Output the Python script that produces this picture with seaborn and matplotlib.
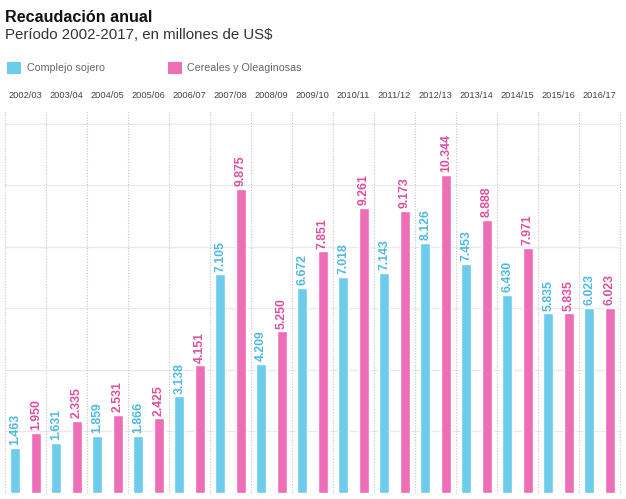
import matplotlib
matplotlib.use("Agg")
import matplotlib.pyplot as plt
from matplotlib.patches import Rectangle
import seaborn as sns
import pandas as pd

campanas = ["2002/03", "2003/04", "2004/05", "2005/06", "2006/07", "2007/08", "2008/09",
            "2009/10", "2010/11", "2011/12", "2012/13", "2013/14", "2014/15", "2015/16", "2016/17"]
complejo_sojero = [1463, 1631, 1859, 1866, 3138, 7105, 4209, 6672, 7018, 7143, 8126, 7453, 6430, 5835, 6023]
cereales_oleaginosas = [1950, 2335, 2531, 2425, 4151, 9875, 5250, 7851, 9261, 9173, 10344, 8888, 7971, 5835, 6023]
series = ["Complejo sojero", "Cereales y Oleaginosas"]

bar_colors = ["#6DCBEB", "#EE6DB7"]
label_colors = ["#4FB9DE", "#DC4F9F"]

df = pd.DataFrame({
    "campana": campanas * 2,
    "valor": complejo_sojero + cereales_oleaginosas,
    "serie": [series[0]] * len(campanas) + [series[1]] * len(campanas),
})

sns.set_theme(style="white")
plt.rcParams["font.family"] = ["Liberation Sans", "DejaVu Sans"]

fig = plt.figure(figsize=(6.26, 4.99), dpi=100)
W, H = 626, 499
ax = fig.add_axes([5 / W, 1 - 493 / H, 615 / W, (493 - 110) / H])

sns.barplot(data=df, x="campana", y="valor", hue="serie", order=campanas, hue_order=series,
            palette=bar_colors, width=1.0, gap=0.51, saturation=1, ax=ax, legend=False,
            errorbar=None, zorder=3)

for cont, vals, col in zip(ax.containers, [complejo_sojero, cereales_oleaginosas], label_colors):
    labels = [f"{v:,}".replace(",", ".") for v in vals]
    ax.bar_label(cont, labels=labels, rotation=90, padding=2, color=col,
                 fontsize=8.8, fontweight="bold", zorder=4)

n = len(campanas)
ax.set_xlim(-0.5, n - 0.5)
ax.set_ylim(0, 12450)
ax.set_yticks(range(2000, 12001, 2000))
ax.yaxis.grid(True, color="#e9e9e9", linewidth=0.9, zorder=0)
ax.set_yticklabels([])
ax.tick_params(axis="y", length=0)
for i in range(n + 1):
    ax.axvline(i - 0.5, color="#c4c4c4", linestyle=(0, (1, 1.5)), linewidth=0.8,
               zorder=1, clip_on=False)

ax.xaxis.tick_top()
ax.tick_params(axis="x", length=0, pad=7, labelsize=6.7, labelcolor="#444444")
ax.set_xlabel("")
ax.set_ylabel("")
for s in ax.spines.values():
    s.set_visible(False)

fig.text(5 / W, 1 - 17 / H, "Recaudación anual", fontsize=11.6, fontweight="bold",
         color="#111111", va="center", ha="left")
fig.text(5 / W, 1 - 35 / H, "Período 2002-2017, en millones de US$", fontsize=10.8,
         color="#333333", va="center", ha="left")

legend_items = [(7, 27), (168, 187)]
for (sx, tx), name, col in zip(legend_items, series, bar_colors):
    fig.patches.append(Rectangle((sx / W, 1 - 74 / H), 14 / W, 12 / H, transform=fig.transFigure,
                                 facecolor=col, edgecolor="none"))
    fig.text(tx / W, 1 - 68 / H, name, fontsize=7.7, color="#666666", va="center", ha="left")

fig.savefig("out.png", dpi=100)
